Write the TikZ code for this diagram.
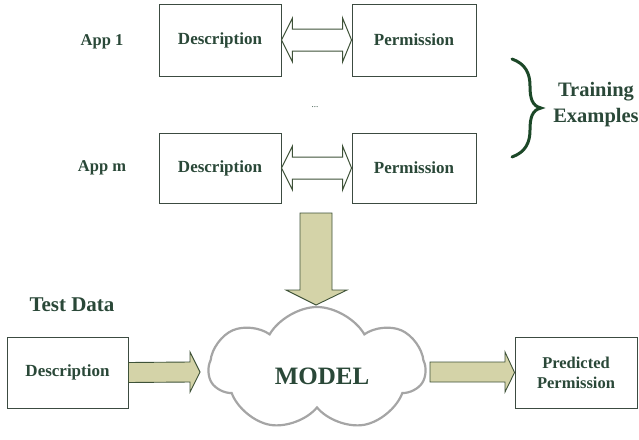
\documentclass[tikz,border=0pt]{standalone}
\usepackage{fontspec}
\setmainfont{Liberation Serif}
\usetikzlibrary{shapes.symbols,calc}
\definecolor{txtgreen}{RGB}{42,72,56}
\definecolor{boxline}{RGB}{60,75,65}
\definecolor{khaki}{RGB}{212,211,168}
\definecolor{arrline}{RGB}{62,82,56}
\definecolor{bracegreen}{RGB}{28,72,40}
\definecolor{cloudgray}{RGB}{165,165,165}
\tikzset{
  lbl/.style={text=txtgreen,font=\bfseries\fontsize{16.5}{20}\selectfont,inner sep=0pt},
  boxnode/.style={draw=boxline,line width=0.9pt,fill=white,text=txtgreen,
    font=\bfseries\fontsize{17}{20}\selectfont,align=center,inner sep=0pt},
  dblarrow/.style={draw=arrline,line width=1pt,fill=white,line join=miter},
  fatarrow/.style={draw=arrline,line width=0.9pt,fill=khaki,line join=miter},
}
\begin{document}
\begin{tikzpicture}[x=1pt,y=-1pt]
\useasboundingbox (0,0) rectangle (639,439);
% top rows
\node[boxnode,minimum width=122pt,minimum height=72pt] (d1) at (220,40) {Description};
\node[boxnode,minimum width=124pt,minimum height=72pt] (p1) at (414,40) {Permission};
\node[boxnode,minimum width=122pt,minimum height=70pt] (d2) at (220,168) {Description};
\node[boxnode,minimum width=124pt,minimum height=70pt] (p2) at (414,168) {Permission};
\node[lbl] (a1) at (102,42) {App 1};
\node[lbl] (am) at (102,168) {App m};
\node[text=txtgreen,font=\fontsize{9}{10}\selectfont,inner sep=0pt] (dots) at (315,107) {...};
% double arrows
\foreach \d/\p in {d1/p1,d2/p2}{
  \draw[dblarrow] (\d.east) -- ++(11,-22) -- ++(0,11)
     -- ($(\p.west)+(-9,-11)$) -- ++(0,-11) -- (\p.west)
     -- ++(-9,22) -- ++(0,-11) -- ($(\d.east)+(11,11)$) -- ++(0,11) -- cycle;
}
% brace and training examples
\coordinate (bt) at (512,59);
\coordinate (bb) at (512,157);
\coordinate (btip) at (541,108);
\draw[bracegreen,line width=3pt,line cap=round]
  (bt) .. controls (526,64) and (530,74) .. (530,86)
       .. controls (530,98) and (532,106) .. (btip)
       .. controls (532,110) and (530,118) .. (530,130)
       .. controls (530,142) and (526,152) .. (bb);
\node[text=txtgreen,font=\bfseries\fontsize{20.5}{26}\selectfont,align=center,inner sep=0pt] (tr) at (596,105) {Training\\Examples};
% cloud
\node[cloud,cloud puffs=7,cloud puff arc=120,aspect=1.75,draw=cloudgray,line width=2.2pt,fill=white,
  minimum width=216pt,minimum height=124pt,inner sep=0pt] (model) at (317,369) {};
\node[text=txtgreen,font=\bfseries\fontsize{25}{30}\selectfont,inner sep=0pt] (mtext) at (322,376) {MODEL};
% down arrow
\coordinate (dtop) at (316,213);
\draw[fatarrow] (dtop) ++(-16,0) -- ++(32,0) -- ++(0,77) -- ++(15,0) -- (316,305)
   -- (286,290) -- (300,290) -- cycle;
% test data
\node[lbl,font=\bfseries\fontsize{21}{24}\selectfont] (td) at (72,305) {Test Data};
\node[boxnode,minimum width=121pt,minimum height=71pt] (d3) at (67.5,372.5) {Description};
\node[boxnode,minimum width=122pt,minimum height=71pt,font=\bfseries\fontsize{16.5}{20}\selectfont] (pp) at (576,372.5) {Predicted\\Permission};
% left fat arrow
\draw[fatarrow] ($(d3.east)+(0,-10)$) -- (190,362) -- (190,352) -- (200,372) -- (190,392) -- (190,382)
   -- ($(d3.east)+(0,10)$) -- cycle;
% right fat arrow
\draw[fatarrow] (430,362) -- (505,362) -- (505,352) -- (pp.west) -- (505,392) -- (505,382) -- (430,382) -- cycle;
\end{tikzpicture}
\end{document}
